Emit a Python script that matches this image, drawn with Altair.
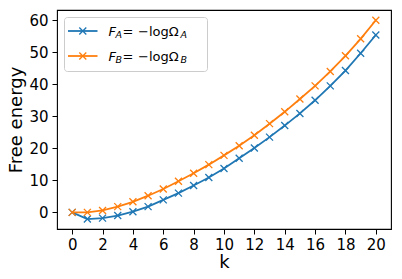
import altair as alt
import pandas as pd

k = list(range(21))
F_A = [0.0, -2.1, -1.8, -1.0, 0.2, 1.8, 3.9, 6.0, 8.4, 10.9, 13.7, 16.9, 20.1,
       23.5, 27.1, 30.9, 35.0, 39.5, 44.3, 49.7, 55.4]
F_B = [0.0, 0.0, 0.6, 1.8, 3.3, 5.2, 7.3, 9.7, 12.2, 14.9, 17.8, 20.8, 24.1,
       27.7, 31.4, 35.4, 39.5, 44.0, 48.9, 54.2, 60.0]
series_names = ["A", "B"]
colors = ["#1f77b4", "#ff7f0e"]
x_ticks = list(range(0, 21, 2))
y_ticks = list(range(0, 61, 10))

FONT = "DejaVu Sans"
XSHAPE = "M-1,-1L1,1M-1,1L1,-1"

xscale = alt.Scale(domain=[-1, 21], nice=False, zero=False)
yscale = alt.Scale(domain=[-5.2, 63.2], nice=False, zero=False)

xaxis = alt.Axis(values=x_ticks, title="k", grid=False, domain=False,
                 tickColor="black", tickSize=5, labelColor="black",
                 labelFontSize=15, labelFont=FONT, labelPadding=3,
                 titleFont=FONT, titleFontSize=18, titleFontWeight="normal",
                 titleColor="black", titlePadding=1, labelFlush=False)
yaxis = alt.Axis(values=y_ticks, title="Free energy", grid=False, domain=False,
                 tickColor="black", tickSize=5, labelColor="black",
                 labelFontSize=15, labelFont=FONT, labelPadding=4,
                 titleFont=FONT, titleFontSize=18, titleFontWeight="normal",
                 titleColor="black", titlePadding=3, labelFlush=False)

layers = []
for i, (name, vals) in enumerate(zip(series_names, [F_A, F_B])):
    df = pd.DataFrame({"k": k, "F": vals})
    base = alt.Chart(df).encode(
        x=alt.X("k:Q", scale=xscale, axis=xaxis),
        y=alt.Y("F:Q", scale=yscale, axis=yaxis),
    )
    layers.append(base.mark_line(color=colors[i], strokeWidth=1.8))
    layers.append(base.mark_point(shape=XSHAPE, filled=False, color=colors[i],
                                  strokeWidth=1.3, size=49, opacity=1))

# Custom legend (inside the plot, upper left)
leg = []
leg.append(alt.Chart().mark_rect(fill="white", fillOpacity=0.8, stroke="#cccccc",
                                 strokeWidth=1, cornerRadius=3).encode(
    x=alt.value(7.5), x2=alt.value(150.5), y=alt.value(7.5), y2=alt.value(61.5)))
row_y = [21, 46]
for i, name in enumerate(series_names):
    yy = row_y[i]
    leg.append(alt.Chart().mark_rule(color=colors[i], strokeWidth=1.8).encode(
        x=alt.value(11), x2=alt.value(40.5), y=alt.value(yy)))
    leg.append(alt.Chart().mark_point(shape=XSHAPE, filled=False, color=colors[i],
                                      strokeWidth=1.3, size=49, opacity=1).encode(
        x=alt.value(25.8), y=alt.value(yy)))
    base_y = yy + 5
    leg.append(alt.Chart().mark_text(text="F", font=FONT, fontSize=13, fontStyle="italic",
                                     align="left", baseline="alphabetic", color="black").encode(
        x=alt.value(51.5), y=alt.value(base_y)))
    leg.append(alt.Chart().mark_text(text=name, font=FONT, fontSize=9.5, fontStyle="italic",
                                     align="left", baseline="alphabetic", color="black").encode(
        x=alt.value(58.5), y=alt.value(base_y + 2)))
    leg.append(alt.Chart().mark_text(text="=", font=FONT, fontSize=13,
                                     align="left", baseline="alphabetic", color="black").encode(
        x=alt.value(65.5), y=alt.value(base_y)))
    leg.append(alt.Chart().mark_text(text="\u2212log\u03a9", font=FONT, fontSize=13,
                                     align="left", baseline="alphabetic", color="black").encode(
        x=alt.value(81), y=alt.value(base_y)))
    leg.append(alt.Chart().mark_text(text=name, font=FONT, fontSize=9.5, fontStyle="italic",
                                     align="left", baseline="alphabetic", color="black").encode(
        x=alt.value(123.5), y=alt.value(base_y + 2)))

chart = alt.layer(*layers, *leg).properties(
    width=334, height=219,
    background="white",
    autosize=alt.AutoSizeParams(type="none"),
    padding={"left": 49, "top": 2, "right": 2, "bottom": 52},
).configure_view(stroke="black", strokeWidth=1.1)

chart.save("out.html", embed_options={"renderer": "svg", "actions": False})
